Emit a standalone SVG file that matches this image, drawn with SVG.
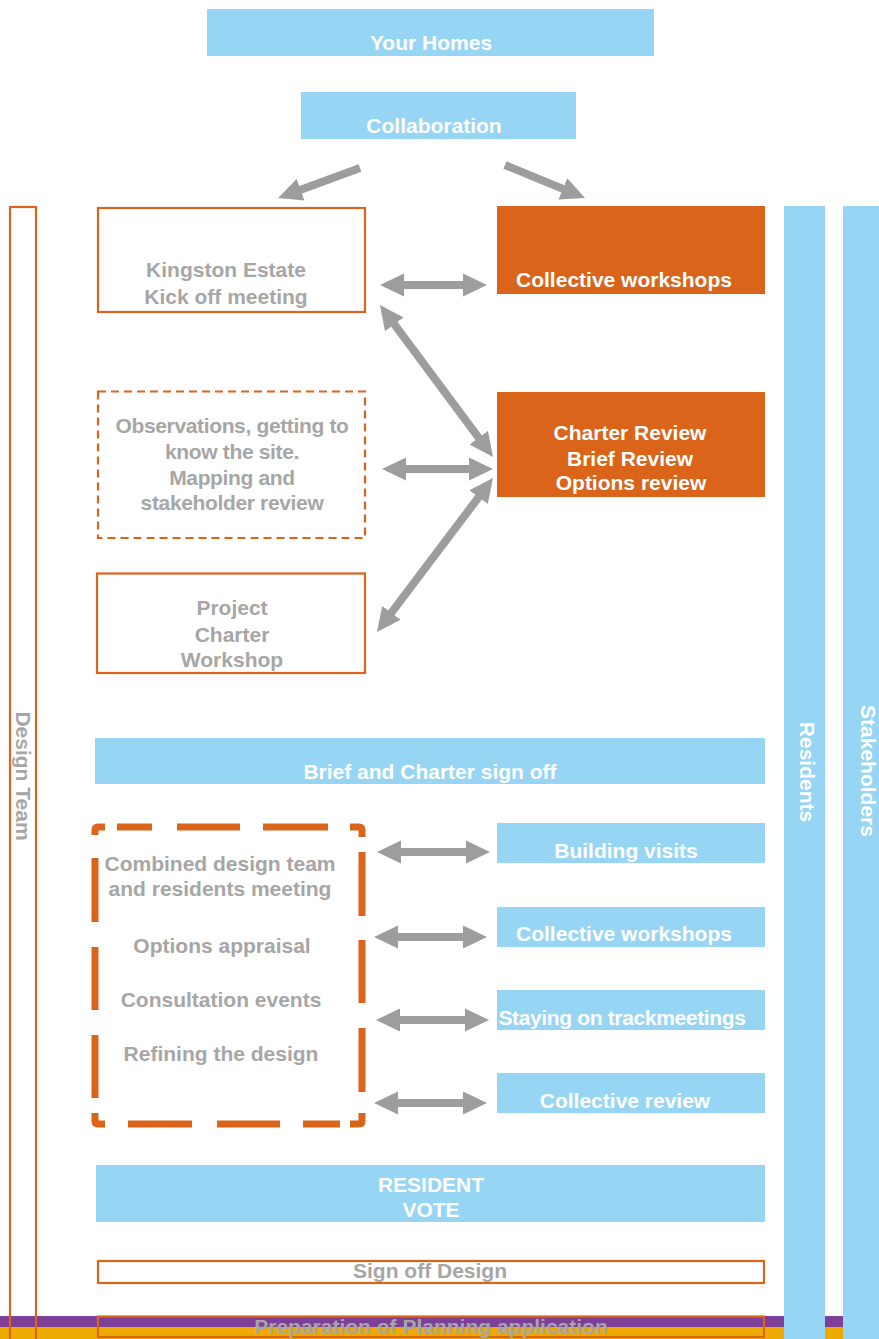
<svg xmlns="http://www.w3.org/2000/svg" width="879" height="1339" viewBox="0 0 879 1339">
<style>
text{font-family:"Liberation Sans",Arial,sans-serif;font-weight:bold;font-size:21px;text-anchor:middle}
.w{fill:#FFFFFF}
.g{fill:#A6A6A6}
.t{letter-spacing:-0.35px}
.blue{fill:#97D5F5}
.org{fill:#D9641A}
.ol{fill:#FFFFFF;stroke:#D9641A;stroke-width:2.2}
.arr{stroke:#9D9D9D;stroke-width:8;fill:none}
</style>
<defs>
<marker id="ah" markerUnits="userSpaceOnUse" markerWidth="26" markerHeight="26" viewBox="0 0 26 26" refX="2" refY="13" orient="auto-start-reverse">
<path d="M0,1.5 L24,13 L0,24.5 Z" fill="#9D9D9D"/>
</marker>
</defs>
<rect width="879" height="1339" fill="#FFFFFF"/>

<g id="bands">
<rect x="0" y="1316" width="879" height="11" fill="#7E3F98"/>
<rect x="0" y="1327" width="879" height="12" fill="#EFAA00"/>
</g>

<g id="design-team">
<rect x="10" y="207" width="26" height="1145" fill="none" stroke="#D9641A" stroke-width="2.2"/>
<text class="g" transform="translate(16,776) rotate(90)">Design Team</text>
</g>

<g id="residents">
<rect class="blue" x="784" y="206" width="41" height="1133"/>
<text class="w" transform="translate(800,772) rotate(90)">Residents</text>
</g>

<g id="stakeholders">
<rect class="blue" x="843" y="206" width="36" height="1133"/>
<text class="w" transform="translate(861,771) rotate(90)">Stakeholders</text>
</g>

<g id="your-homes">
<rect class="blue" x="207" y="9" width="447" height="47"/>
<text class="w" x="431" y="50">Your Homes</text>
</g>

<g id="collaboration">
<rect class="blue" x="301" y="92" width="275" height="47"/>
<text class="w" x="434" y="133">Collaboration</text>
</g>

<g id="kingston">
<rect class="ol" x="98" y="208" width="267" height="104"/>
<text class="g" x="226" y="277">Kingston Estate</text>
<text class="g" x="226" y="304">Kick off meeting</text>
</g>

<g id="collective-workshops-1">
<rect class="org" x="497" y="206" width="268" height="88"/>
<text class="w" x="624" y="287">Collective workshops</text>
</g>

<g id="observations">
<rect x="98" y="391.5" width="267" height="146.5" fill="#FFFFFF" stroke="#D9641A" stroke-width="2.2" stroke-dasharray="8 5"/>
<text class="g t" x="232" y="433">Observations, getting to</text>
<text class="g t" x="232" y="459">know the site.</text>
<text class="g t" x="232" y="485">Mapping and</text>
<text class="g t" x="232" y="510">stakeholder review</text>
</g>

<g id="charter-review">
<rect class="org" x="497" y="392" width="268" height="105"/>
<text class="w" x="630" y="440">Charter Review</text>
<text class="w" x="630" y="466">Brief Review</text>
<text class="w" x="631" y="490">Options review</text>
</g>

<g id="project-charter">
<rect class="ol" x="97" y="573.5" width="268" height="99.5"/>
<text class="g" x="232" y="615">Project</text>
<text class="g" x="232" y="642">Charter</text>
<text class="g" x="232" y="667">Workshop</text>
</g>

<g id="brief-signoff">
<rect class="blue" x="95" y="738" width="670" height="46"/>
<text class="w" x="430" y="779">Brief and Charter sign off</text>
</g>

<g id="design-meetings">
<path d="M95,835 V830 Q95,827 98,827 H105 M117,827 H152 M177,827 H240 M263,827 H328 M350,827 H359 Q362,827 362,830 V837 M362,852 V916 M362,940 V1003 M362,1028 V1092 M362,1113 V1121 Q362,1124 359,1124 H350 M340,1124 H303 M280,1124 H217 M192,1124 H128 M105,1124 H98 Q95,1124 95,1121 V1113 M95,1098 V1035 M95,1010 V947 M95,922 V858" fill="none" stroke="#D9641A" stroke-width="7"/>
<text class="g" x="220" y="871">Combined design team</text>
<text class="g" x="220" y="896">and residents meeting</text>
<text class="g" x="222" y="953">Options appraisal</text>
<text class="g" x="221" y="1007">Consultation events</text>
<text class="g" x="221" y="1061">Refining the design</text>
</g>

<g id="building-visits">
<rect class="blue" x="497" y="823" width="268" height="40"/>
<text class="w" x="626" y="858">Building visits</text>
</g>

<g id="collective-workshops-2">
<rect class="blue" x="497" y="907" width="268" height="40"/>
<text class="w" x="624" y="941">Collective workshops</text>
</g>

<g id="staying-on-track">
<rect class="blue" x="497" y="990" width="268" height="40"/>
<text class="w t" x="622" y="1025">Staying on trackmeetings</text>
</g>

<g id="collective-review">
<rect class="blue" x="497" y="1073" width="268" height="40"/>
<text class="w" x="625" y="1108">Collective review</text>
</g>

<g id="resident-vote">
<rect class="blue" x="96" y="1165" width="669" height="57"/>
<text class="w" x="431" y="1192">RESIDENT</text>
<text class="w" x="431" y="1217">VOTE</text>
</g>

<g id="sign-off-design">
<rect class="ol" x="98" y="1261" width="666" height="22"/>
<text class="g" x="430" y="1278">Sign off Design</text>
</g>

<g id="planning-application">
<rect x="98" y="1316.5" width="666" height="20.5" fill="none" stroke="#D9641A" stroke-width="2.2"/>
<text class="g" x="431" y="1334">Preparation of Planning application</text>
</g>

<g id="connectors">
<line class="arr" x1="360" y1="168" x2="298.7" y2="190.4" marker-end="url(#ah)"/>
<line class="arr" x1="505" y1="165" x2="564.7" y2="189.6" marker-end="url(#ah)"/>
<line class="arr" x1="402" y1="285" x2="465" y2="285" marker-start="url(#ah)" marker-end="url(#ah)"/>
<line class="arr" x1="393.1" y1="322.7" x2="479.9" y2="439.3" marker-start="url(#ah)" marker-end="url(#ah)"/>
<line class="arr" x1="404" y1="469" x2="471" y2="469" marker-start="url(#ah)" marker-end="url(#ah)"/>
<line class="arr" x1="479.8" y1="495.6" x2="390.2" y2="614.4" marker-start="url(#ah)" marker-end="url(#ah)"/>
<line class="arr" x1="399" y1="852" x2="468" y2="852" marker-start="url(#ah)" marker-end="url(#ah)"/>
<line class="arr" x1="396" y1="937" x2="465" y2="937" marker-start="url(#ah)" marker-end="url(#ah)"/>
<line class="arr" x1="398" y1="1020" x2="467" y2="1020" marker-start="url(#ah)" marker-end="url(#ah)"/>
<line class="arr" x1="396" y1="1103" x2="465" y2="1103" marker-start="url(#ah)" marker-end="url(#ah)"/>
</g>
</svg>
